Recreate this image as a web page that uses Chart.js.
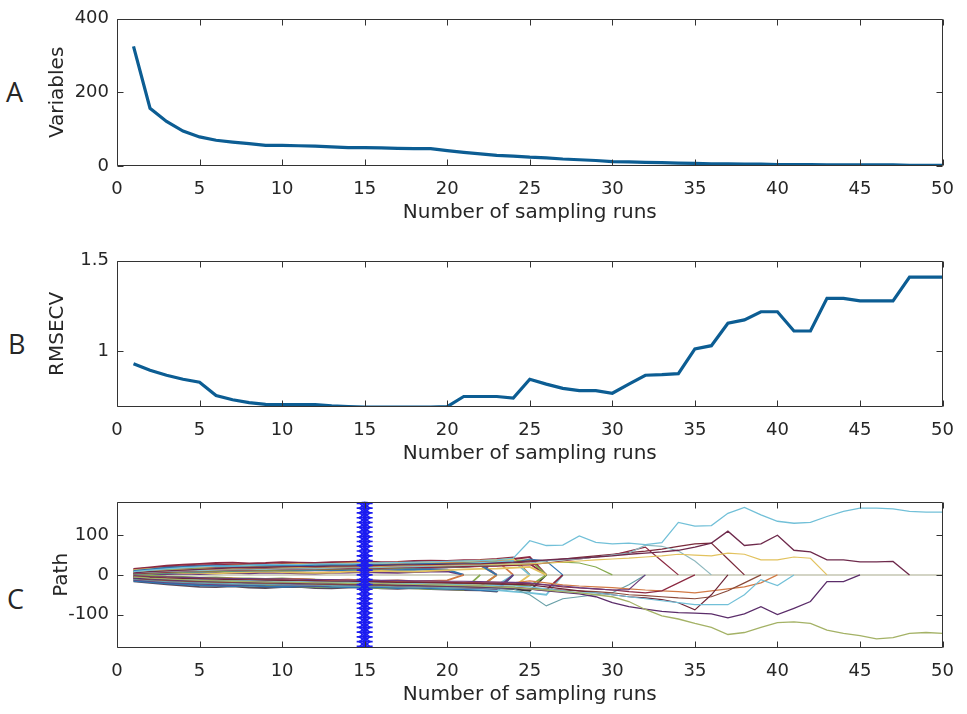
<!DOCTYPE html>
<html>
<head>
<meta charset="utf-8">
<script src="https://cdn.jsdelivr.net/npm/chart.js@4.4.1/dist/chart.umd.min.js"></script>
<style>
  html, body { margin: 0; padding: 0; background: #ffffff; }
  body { width: 967px; height: 714px; position: relative; overflow: hidden; }
  canvas { position: absolute; left: 0; }
  .lab { position: absolute; font-family: "Open Sans", sans-serif; font-size: 27px; color: #262626; line-height: 1; }
</style>
</head>
<body>
<div class="lab" style="left:6px; top:78px;">A</div>
<div class="lab" style="left:8px; top:330px;">B</div>
<div class="lab" style="left:7px; top:585px;">C</div>
<canvas id="cA" width="967" height="230" style="top:0px"></canvas>
<canvas id="cB" width="967" height="229" style="top:242px"></canvas>
<canvas id="cC" width="967" height="229" style="top:483px"></canvas>
<script>
// ---------------- data ----------------
const xTitle = 'Number of sampling runs';
const xTicks = [0, 5, 10, 15, 20, 25, 30, 35, 40, 45, 50];

// Panel A: number of retained variables per sampling run (runs 1..50)
const variables = [325, 157, 121, 95, 79, 70, 65, 61, 56, 56, 55, 54, 52, 50, 50, 49, 48, 47, 47, 42,
                   37, 33, 29, 27, 24, 22, 19, 17, 15, 12, 11, 10, 9, 8, 7, 6, 6, 5, 5, 4,
                   4, 4, 3, 3, 3, 3, 3, 2, 2, 2];
const yTicksA = [0, 200, 400];

// Panel B: RMSECV per sampling run (runs 1..50)
const rmsecv = [0.932, 0.896, 0.869, 0.847, 0.831, 0.757, 0.734, 0.718, 0.709, 0.707,
                0.707, 0.707, 0.700, 0.696, 0.694, 0.694, 0.694, 0.694, 0.694, 0.696,
                0.752, 0.752, 0.752, 0.743, 0.847, 0.820, 0.797, 0.784, 0.784, 0.770,
                0.820, 0.869, 0.872, 0.878, 1.014, 1.032, 1.156, 1.174, 1.219, 1.219,
                1.113, 1.113, 1.293, 1.293, 1.279, 1.279, 1.279, 1.410, 1.410, 1.410];
const yTicksB = [1, 1.5];

// Panel C: regression coefficient paths (values for runs 1..n; path ends at 0 when eliminated)
const pathCyanTop = [8, 12, 15, 18, 20, 22, 22, 24, 25, 26, 26, 27, 28, 28, 29, 30, 31, 32, 33, 34, 35, 36, 38, 42,
  86, 74, 75, 98, 82, 78, 80, 76, 81, 132, 123, 124, 155, 170, 151, 135, 130, 132, 147, 160, 168, 168, 166, 160, 158, 158];
const pathOliveBottom = [-5, -8, -10, -12, -14, -15, -16, -17, -18, -18, -19, -20, -20, -21, -22, -22, -23, -24, -25, -26, -27, -28, -30, -32,
  -35, -38, -42, -45, -50, -55, -67, -87, -103, -111, -122, -132, -150, -145, -132, -120, -118, -122, -139, -147, -153, -161, -158, -147, -145, -147];
const pathMaroonUp = [5, 8, 10, 12, 14, 16, 18, 18, 19, 20, 21, 21, 22, 22, 23, 24, 25, 25, 26, 27, 28, 28, 30, 32,
  35, 38, 40, 42, 45, 48, 52, 55, 58, 62, 70, 80, 110, 74, 78, 100, 62, 58, 38, 38, 33, 33, 34, 0];
const pathPurpleLow = [-8, -10, -12, -14, -15, -16, -17, -18, -19, -20, -20, -21, -22, -22, -23, -24, -25, -26, -27, -28, -29, -30, -32, -34,
  -36, -40, -44, -48, -55, -70, -80, -86, -92, -95, -96, -98, -108, -98, -80, -100, -84, -67, -17, -17, 0];
const pathYellowUp = [6, 9, 11, 13, 14, 15, 16, 17, 18, 18, 19, 20, 20, 21, 22, 22, 23, 24, 24, 25, 26, 26, 27, 27,
  28, 30, 32, 35, 38, 40, 42, 45, 48, 52, 50, 48, 55, 52, 38, 38, 45, 42, 0];
const pathCyanLow = [-7, -9, -11, -12, -13, -14, -15, -15, -16, -17, -17, -18, -19, -19, -20, -21, -22, -22, -23, -24, -25, -26, -27, -28,
  -30, -35, -40, -45, -45, -50, -55, -60, -65, -70, -75, -75, -75, -50, -12, -27, 0];
const pathCyanUp2 = [5, 7, 9, 10, 11, 12, 13, 13, 14, 15, 15, 16, 17, 18, 18, 19, 20, 21, 22, 23, 24, 25, 26, 28,
  30, 35, 38, 40, 45, 50, 55, 75, 72, 60, 35, 0];
const pathMaroonDrop1 = [3, 5, 7, 9, 10, 11, 12, 12, 13, 13, 14, 15, 15, 16, 17, 17, 18, 19, 19, 20, 21, 22, 22, 24,
  25, 30, 35, 40, 45, 50, 60, 70, 35, 0];
const pathMaroonDrop2 = [4, 6, 8, 10, 12, 13, 14, 15, 16, 16, 17, 18, 19, 19, 20, 21, 22, 22, 23, 24, 25, 26, 28, 30,
  33, 36, 40, 44, 48, 52, 56, 60, 65, 72, 78, 80, 40, 0];
const pathMaroonRise1 = [-4, -6, -8, -9, -10, -11, -12, -13, -13, -14, -15, -15, -16, -17, -17, -18, -19, -19, -20, -21, -21, -22, -23, -24,
  -25, -30, -35, -40, -45, -50, -55, -58, -62, -70, -88, -50, 0];
const pathPurpleRise = [-2, -4, -5, -6, -7, -8, -9, -9, -10, -10, -11, -12, -12, -13, -13, -14, -14, -15, -15, -16, -16, -17, -18, -19,
  -20, -25, -28, -32, -35, -38, -37, 0];
const pathMaroonRise2 = [-6, -8, -9, -10, -11, -12, -12, -13, -14, -14, -15, -15, -16, -16, -17, -17, -18, -18, -19, -19, -20, -20, -21, -21,
  -22, -25, -30, -33, -35, -38, -42, -45, -40, -20, 0];
const pathBrownRise = [-9, -12, -14, -16, -17, -18, -19, -20, -21, -21, -22, -23, -24, -24, -25, -26, -27, -27, -28, -29, -30, -31, -32, -33,
  -34, -36, -38, -40, -42, -45, -50, -52, -55, -58, -60, -55, -40, -20, 0];
const pathOrangeLow = [-3, -5, -7, -8, -9, -10, -11, -11, -12, -12, -13, -14, -14, -15, -15, -16, -16, -17, -17, -18, -18, -19, -19, -20,
  -15, -20, -25, -28, -30, -32, -35, -38, -40, -42, -45, -40, -35, -30, -20, 0];
const pathGreenUp = [2, 4, 5, 7, 8, 9, 10, 11, 11, 12, 13, 13, 14, 15, 15, 16, 17, 18, 19, 20, 21, 22, 24, 26,
  28, 30, 32, 30, 20, 0];
const pathBlueUp = [1, 3, 4, 6, 7, 8, 9, 10, 10, 11, 12, 12, 13, 14, 14, 15, 16, 17, 18, 19, 20, 22, 25, 30,
  40, 35, 0];
const pathTealDip = [-11, -14, -17, -19, -21, -22, -23, -24, -24, -25, -26, -26, -27, -28, -28, -29, -30, -30, -31, -32, -32, -33, -34, -35,
  -50, -78, -60, -55, -50, -45, -25, 0];

const band01 = [10, 14, 18, 20, 22, 23, 22, 24, 25, 24, 23, 25, 26, 25, 24, 25, 26, 27, 28, 27, 26, 25, 0];
const band02 = [-3, -5, -6, -8, -9, -10, -9, -11, -12, -11, -10, -12, -13, -12, -14, -15, -14, -16, -15, -14, 0];
const band03 = [2, 3, 5, 6, 5, 4, 6, 7, 8, 7, 6, 5, 6, 8, 9, 10, 9, 8, 10, 12, 14, 15, 16, 18, 20, 0];
const band04 = [-12, -15, -18, -20, -22, -24, -25, -24, -23, -25, -26, -27, -26, -25, -27, -28, -29, -28, -30, -31, -32, -33, -35, 0];
const band05 = [-1, -2, -4, -5, -7, -6, -8, -9, -10, -9, -11, -12, -13, -14, -13, -15, -16, -18, -17, -19, -20, -21, -22, -25, -28, 0];
const band06 = [6, 8, 10, 11, 12, 13, 14, 15, 14, 16, 17, 18, 17, 19, 20, 21, 22, 23, 24, 26, 28, 30, 32, 35, 0];
const band07 = [-6, -9, -11, -13, -14, -15, -16, -15, -17, -18, -19, -18, -20, -21, -22, -21, -23, -24, -25, -26, -27, -28, -30, -32, -35, -38, 0];
const band08 = [4, 5, 7, 8, 9, 10, 12, 11, 10, 9, 11, 12, 13, 12, 11, 10, 12, 13, 14, 13, 0];
const band09 = [-8, -10, -12, -13, -15, -16, -17, -18, -17, -19, -20, -21, -22, -23, -22, -24, -25, -26, -25, -27, -28, -29, 0];
const band10 = [12, 15, 17, 19, 21, 22, 23, 24, 25, 26, 27, 26, 28, 29, 30, 29, 31, 30, 32, 33, 34, 36, 38, 40, 0];
const band11 = [0, 1, 2, 3, 2, 4, 5, 4, 6, 5, 4, 3, 5, 6, 7, 6, 5, 7, 8, 9, 0];
const band12 = [8, 10, 12, 13, 15, 16, 17, 18, 19, 18, 20, 21, 22, 23, 22, 24, 25, 26, 27, 28, 29, 30, 33, 35, 38, 0];
const band13 = [-10, -13, -16, -18, -20, -21, -22, -23, -22, -24, -25, -24, -26, -27, -26, -28, -29, -30, -31, -32, -33, -35, -38, -42, -45, -50, 0];
const band14 = [14, 17, 20, 22, 24, 25, 26, 27, 26, 28, 29, 28, 30, 31, 30, 29, 31, 32, 33, 32, 34, 35, 37, 40, 45, 0];
const band15 = [-15, -18, -21, -24, -26, -27, -28, -27, -29, -30, -29, -28, -30, -31, -32, -31, -33, -32, -34, -35, -36, -38, -40, 0];
const band16 = [3, 4, 6, 8, 9, 8, 10, 11, 12, 13, 14, 15, 14, 16, 15, 17, 18, 19, 20, 21, 22, 24, 0];
const band17 = [-4, -6, -8, -10, -11, -12, -11, -13, -14, -15, -16, -15, -17, -18, -19, -18, -20, -21, -22, -23, -24, -26, -28, -30, 0];
const band18 = [7, 9, 11, 13, 15, 17, 18, 19, 20, 21, 20, 22, 23, 24, 25, 26, 25, 27, 28, 29, 30, 31, 0];
const band19 = [-13, -16, -19, -21, -23, -24, -26, -27, -28, -27, -29, -30, -31, -30, -32, -33, -32, -34, -35, -36, -37, 0];
const band20 = [-2, -3, -5, -7, -8, -9, -10, -11, -10, -12, -13, -14, -13, -15, -16, -17, -16, -18, -19, -20, -22, -24, -26, 0];
const band21 = [1, 2, 3, 5, 6, 7, 8, 9, 8, 10, 11, 12, 11, 13, 14, 15, 16, 17, 18, 19, 20, 22, 24, 26, 28, 0];
const band22 = [-9, -11, -14, -16, -17, -19, -20, -21, -20, -22, -21, -23, -24, -25, -24, -26, -27, -28, -27, -29, -30, -31, -33, -36, -40, 0];
const band23 = [9, 12, 14, 16, 18, 19, 20, 21, 22, 23, 22, 24, 25, 24, 26, 27, 28, 29, 30, 31, 32, 34, 36, 0];
const band24 = [-5, -7, -9, -11, -12, -13, -14, -15, -16, -17, -18, -19, -20, -21, -22, -23, -24, -25, -26, -27, -28, -30, 0];
const band25 = [-16, -20, -24, -27, -30, -31, -29, -32, -33, -31, -30, -33, -34, -32, -31, -34, -35, -33, -36, -37, -38, -39, -42, 0];
const band26 = [15, 19, 23, 26, 28, 30, 31, 29, 30, 32, 31, 30, 32, 33, 34, 32, 33, 35, 36, 35, 37, 38, 40, 44, 0];

// zero line of eliminated coefficients (from run 1 to run 50)
const zeroRuns = [1, 50];
const zeroVals = [0, 0];

// optimal run marker (run 15), stacked asterisks across the whole y range
const optimalRun = 15;
const starYs = [-180, -168, -156, -144, -132, -120, -108, -96, -84, -72, -60, -48, -36, -24, -12, 0,
                12, 24, 36, 48, 60, 72, 84, 96, 108, 120, 132, 144, 156, 168, 180];
const yTicksC = [-100, 0, 100];

// ---------------- helpers ----------------
const TXT = '#262626';
const tickFont = { family: 'DejaVu Sans', size: 18 };
const titleFont = { family: 'DejaVu Sans', size: 20 };

const C = {
  blue: '#2f74b0', orange: '#d27a45', yellow: '#e2c25e', purple: '#6c3b7c',
  green: '#86aa4e', cyan: '#72c0d8', maroon: '#8c2a42'
};

function toPts(vals) { return vals.map((v, i) => ({ x: i + 1, y: v })); }

function pathDs(vals, color, width) {
  return { data: toPts(vals), borderColor: color, borderWidth: width || 1.8, pointRadius: 0, tension: 0, fill: false };
}

const framePlugin = {
  id: 'frame',
  afterDraw(chart) {
    const { ctx, chartArea: a } = chart;
    const xs = chart.scales.x, ys = chart.scales.y;
    const yTicks = chart.options.plugins.frame.yTicks;
    const L = 6;
    ctx.save();
    ctx.strokeStyle = '#333333';
    ctx.lineWidth = 1;
    ctx.beginPath();
    const l = Math.round(a.left) + 0.5, r = Math.round(a.right) - 0.5;
    const t = Math.round(a.top) + 0.5, b = Math.round(a.bottom) - 0.5;
    ctx.rect(l, t, r - l, b - t);
    xTicks.forEach(v => {
      const px = Math.round(xs.getPixelForValue(v)) + 0.5;
      ctx.moveTo(px, b); ctx.lineTo(px, b - L);
      ctx.moveTo(px, t); ctx.lineTo(px, t + L);
    });
    yTicks.forEach(v => {
      const py = Math.round(ys.getPixelForValue(v)) + 0.5;
      ctx.moveTo(l, py); ctx.lineTo(l + L, py);
      ctx.moveTo(r, py); ctx.lineTo(r - L, py);
    });
    ctx.stroke();
    ctx.restore();
  }
};

function makePanel(id, datasets, yMin, yMax, yTicks, yTitle, yTitlePad) {
  return new Chart(document.getElementById(id), {
    type: 'line',
    data: { datasets },
    options: {
      responsive: false,
      animation: false,
      events: [],
      layout: { padding: { top: 15, right: 20, left: 0, bottom: 0 } },
      plugins: { legend: { display: false }, tooltip: { enabled: false }, frame: { yTicks } },
      scales: {
        x: {
          type: 'linear', min: 0, max: 50,
          afterBuildTicks: s => { s.ticks = xTicks.map(v => ({ value: v })); },
          ticks: { font: tickFont, color: TXT, padding: 13, maxRotation: 0, autoSkip: false, callback: v => String(v) },
          grid: { display: false, drawTicks: false },
          border: { display: false },
          title: { display: true, text: xTitle, font: titleFont, color: TXT, padding: { top: 0, bottom: 5 } },
          afterFit: s => { s.height = 64; }
        },
        y: {
          type: 'linear', min: yMin, max: yMax,
          afterBuildTicks: s => { s.ticks = yTicks.map(v => ({ value: v })); },
          ticks: { font: tickFont, color: TXT, padding: 8, autoSkip: false, callback: v => String(v) },
          grid: { display: false, drawTicks: false },
          border: { display: false },
          title: { display: true, text: yTitle, font: titleFont, color: TXT, padding: { top: yTitlePad, bottom: 0 } },
          afterFit: s => { s.width = 117; }
        }
      }
    },
    plugins: [framePlugin]
  });
}

// ---------------- panels ----------------
const lineBlue = '#0c5d93';
makePanel('cA', [pathDs(variables, lineBlue, 3.2)], 0, 400, yTicksA, 'Variables', 46);
makePanel('cB', [pathDs(rmsecv, lineBlue, 3.2)], 0.694, 1.5, yTicksB, 'RMSECV', 46);

const starDs = {
  data: starYs.map(y => ({ x: optimalRun, y })),
  borderColor: '#1c1cf0', backgroundColor: '#1c1cf0', borderWidth: 2,
  pointStyle: 'star', pointRadius: 8, pointBorderWidth: 1.6, pointBorderColor: '#1c1cf0', tension: 0, fill: false
};

const cDatasets = [
  starDs,
  pathDs(pathCyanTop, C.cyan, 1.3),
  pathDs(pathOliveBottom, '#a4b266', 1.3),
  pathDs(pathMaroonUp, '#6e2a4c', 1.3),
  pathDs(pathPurpleLow, '#5b2d6a', 1.3),
  pathDs(pathYellowUp, C.yellow, 1.2),
  pathDs(pathCyanLow, C.cyan, 1.2),
  pathDs(pathCyanUp2, '#8fb9bf', 1.2),
  pathDs(pathMaroonDrop1, C.maroon, 1.2),
  pathDs(pathMaroonDrop2, '#7a2a3a', 1.2),
  pathDs(pathMaroonRise1, '#6d2638', 1.2),
  pathDs(pathPurpleRise, C.purple, 1.2),
  pathDs(pathMaroonRise2, C.maroon, 1.2),
  pathDs(pathBrownRise, '#8a4a3a', 1.2),
  pathDs(pathOrangeLow, C.orange, 1.2),
  pathDs(pathGreenUp, C.green, 1.2),
  pathDs(pathBlueUp, C.blue, 1.2),
  pathDs(pathTealDip, '#6aa0a8', 1.2),
  pathDs(band01, C.blue), pathDs(band02, C.orange), pathDs(band03, C.yellow), pathDs(band04, C.purple),
  pathDs(band05, C.green), pathDs(band06, C.cyan), pathDs(band07, C.maroon), pathDs(band08, C.blue),
  pathDs(band09, C.orange), pathDs(band10, C.yellow), pathDs(band11, C.purple), pathDs(band12, C.green),
  pathDs(band13, C.cyan), pathDs(band14, C.maroon), pathDs(band15, C.blue), pathDs(band16, C.orange),
  pathDs(band17, C.yellow), pathDs(band18, C.purple), pathDs(band19, C.green), pathDs(band20, C.cyan),
  pathDs(band21, C.maroon), pathDs(band22, '#333333'), pathDs(band23, C.orange), pathDs(band24, C.green),
  pathDs(band25, '#5a4a5a'), pathDs(band26, C.maroon),
  { data: zeroRuns.map((x, i) => ({ x, y: zeroVals[i] })), borderColor: '#c4c6b2', borderWidth: 1.5, pointRadius: 0, tension: 0, fill: false }
];
makePanel('cC', cDatasets, -184, 184, yTicksC, 'Path', 50);
</script>
</body>
</html>
